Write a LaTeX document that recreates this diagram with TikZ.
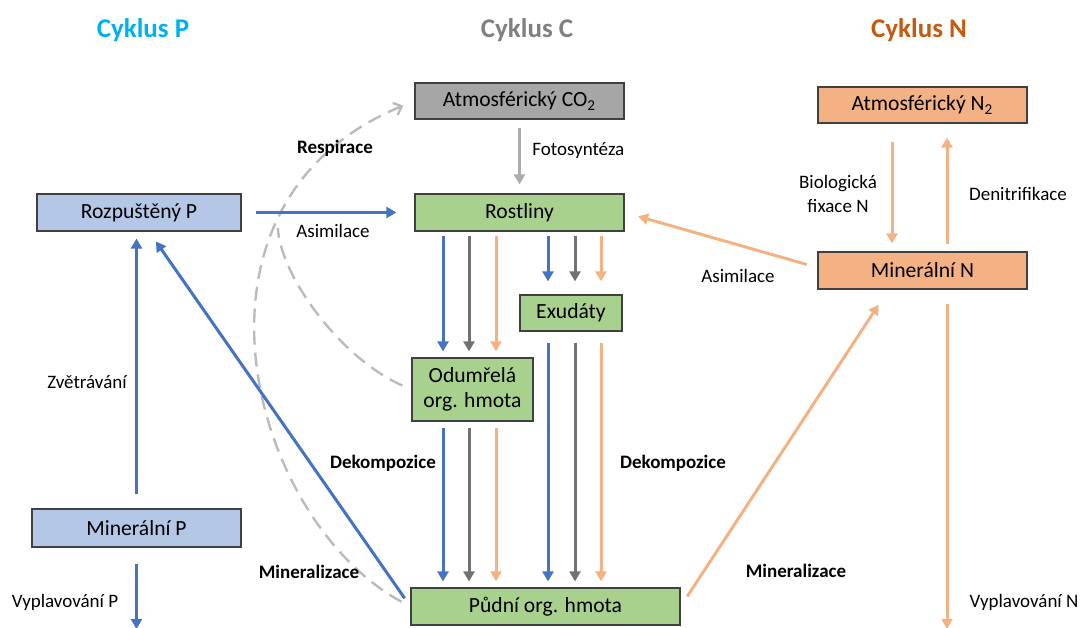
\documentclass[tikz,border=0pt]{standalone}
\usepackage{fontspec}
\setmainfont{Carlito}
\usetikzlibrary{arrows.meta}

\definecolor{pblue}{HTML}{4472C4}
\definecolor{cgray}{HTML}{767171}
\definecolor{norange}{HTML}{F4B183}
\definecolor{fotogray}{HTML}{AFABAB}
\definecolor{respgray}{HTML}{BBBBBB}
\definecolor{co2fill}{HTML}{A6A6A6}
\definecolor{cgreen}{HTML}{A9D18E}
\definecolor{pfill}{HTML}{B4C7E7}
\definecolor{titleP}{HTML}{00B0F0}
\definecolor{titleC}{HTML}{808080}
\definecolor{titleN}{HTML}{C55A11}

\newcommand{\boxfont}{\fontsize{10.8}{12.5}\selectfont}
\newcommand{\lblfont}{\fontsize{9.5}{12}\selectfont}
\newcommand{\headfont}{\bfseries\fontsize{13.5}{16}\selectfont}

\tikzset{
  box/.style={draw=black!75, line width=0.6pt, minimum width=104.5pt, minimum height=18.5pt, inner sep=1pt, font=\boxfont},
  head/.style={font=\headfont},
  lbl/.style={font=\lblfont, inner sep=1pt},
  lblb/.style={font=\lblfont\bfseries, inner sep=1pt},
  flow/.style={line width=1.5pt, -{Triangle[length=5pt,width=5.5pt]}, shorten <=2pt, shorten >=3pt},
  resp/.style={draw=respgray, line width=1.2pt, dash pattern=on 7pt off 4pt, -{Straight Barb[length=3.5pt,width=6.5pt]}}
}

\begin{document}
\begin{tikzpicture}[x=0.5pt, y=-0.5pt]
\useasboundingbox (0,0) rectangle (1082,627);

\node[head, text=titleP] (headP) at (143,30) {Cyklus P};
\node[head, text=titleC] (headC) at (527,30) {Cyklus C};
\node[head, text=titleN] (headN) at (919,30) {Cyklus N};

% boxes
\node[box, fill=co2fill, minimum height=18pt] (AtmCO2) at (519.5,101) {Atmosférický CO\textsubscript{2}};
\node[box, fill=cgreen] (Rostliny) at (519.5,212.5) {Rostliny};
\node[box, fill=cgreen, minimum width=51pt, minimum height=18pt] (Exudaty) at (571,313) {Exudáty};
\node[box, fill=cgreen, minimum width=60.5pt, minimum height=31.5pt, align=center] (Odumrela) at (472.5,389.5) {Odumřelá\\org. hmota};
\node[box, fill=cgreen, minimum width=134.5pt] (Pudni) at (545.5,606.5) {Půdní org. hmota};
\node[box, fill=pfill, minimum width=102pt] (RozpP) at (139,212.5) {Rozpuštěný P};
\node[box, fill=pfill, minimum height=19pt] (MinP) at (136.5,528) {Minerální P};
\node[box, fill=norange, minimum height=18pt] (AtmN2) at (922.5,105) {Atmosférický N\textsubscript{2}};
\node[box, fill=norange] (MinN) at (922.5,270.5) {Minerální N};

\coordinate (colB) at (443,0);
\coordinate (colG) at (469,0);
\coordinate (colO) at (496,0);
\coordinate (exB) at (548,0);
\coordinate (exG) at (575,0);
\coordinate (exO) at (601,0);
\coordinate (nFix) at (892,0);
\coordinate (nDen) at (947,0);
\coordinate (outP) at (136.5,629);
\coordinate (outN) at (947,629);

% respirace
\draw[resp, shorten <=5pt, shorten >=6pt] (Pudni.west) .. controls (250,520) and (165,204) .. (AtmCO2.west) coordinate[pos=0.72] (merge);
\draw[resp, -, shorten <=5pt] (Odumrela.west) .. controls (340,358) and (280,275) .. (merge);

% uhlik a dekompozice
\draw[flow, fotogray, shorten <=4pt, shorten >=4.5pt] (AtmCO2.south) -- (Rostliny.north);
\draw[flow, pblue] (Rostliny.south -| colB) -- (Odumrela.north -| colB);
\draw[flow, cgray] (Rostliny.south -| colG) -- (Odumrela.north -| colG);
\draw[flow, norange] (Rostliny.south -| colO) -- (Odumrela.north -| colO);
\draw[flow, pblue, shorten >=6.5pt] (Rostliny.south -| exB) -- (Exudaty.north -| exB);
\draw[flow, cgray, shorten >=6.5pt] (Rostliny.south -| exG) -- (Exudaty.north -| exG);
\draw[flow, norange, shorten >=6.5pt] (Rostliny.south -| exO) -- (Exudaty.north -| exO);
\draw[flow, pblue, shorten <=3pt] (Odumrela.south -| colB) -- (Pudni.north -| colB);
\draw[flow, cgray, shorten <=3pt] (Odumrela.south -| colG) -- (Pudni.north -| colG);
\draw[flow, norange, shorten <=3pt] (Odumrela.south -| colO) -- (Pudni.north -| colO);
\draw[flow, pblue, shorten <=5.5pt] (Exudaty.south -| exB) -- (Pudni.north -| exB);
\draw[flow, cgray, shorten <=5.5pt] (Exudaty.south -| exG) -- (Pudni.north -| exG);
\draw[flow, norange, shorten <=5.5pt] (Exudaty.south -| exO) -- (Pudni.north -| exO);

% fosfor
\draw[flow, pblue, shorten <=7pt, shorten >=9pt] (RozpP.east) -- (Rostliny.west);
\draw[flow, pblue, shorten <=7pt, shorten >=3.5pt] (MinP.north) -- (MinP.north |- RozpP.south);
\draw[flow, pblue, shorten <=8pt, shorten >=0pt] (MinP.south) -- (outP);
\draw[flow, pblue, shorten <=5pt, shorten >=6pt] (Pudni.west) -- ([xshift=5pt]RozpP.south);

% dusik
\draw[flow, norange, shorten <=9pt, shorten >=4pt] (AtmN2.south -| nFix) -- (MinN.north -| nFix);
\draw[flow, norange, shorten <=3.5pt, shorten >=7pt] (MinN.north -| nDen) -- (AtmN2.south -| nDen);
\draw[flow, norange, shorten <=7pt, shorten >=0pt] (MinN.south -| nDen) -- (outN);
\draw[flow, norange, shorten <=5.5pt, shorten >=7pt] ([yshift=1.5pt]MinN.west) -- (Rostliny.east);
\draw[flow, norange, shorten <=6pt, shorten >=9pt] (Pudni.east) -- ([xshift=-17pt]MinN.south);

% popisky
\node[lbl, anchor=west] (lFoto) at (530,151) {Fotosyntéza};
\node[lblb] (lResp) at (335,148) {Respirace};
\node[lbl] (lAsimP) at (333,231) {Asimilace};
\node[lbl] (lZvetr) at (87,382) {Zvětrávání};
\node[lbl] (lVyplP) at (65,602) {Vyplavování P};
\node[lblb] (lMinP) at (309,572) {Mineralizace};
\node[lblb] (lDek1) at (383,463) {Dekompozice};
\node[lblb] (lDek2) at (673,463) {Dekompozice};
\node[lbl] (lAsimN) at (738,276) {Asimilace};
\node[lbl, align=center] (lFix) at (838,194) {Biologická\\fixace N};
\node[lbl] (lDenit) at (1018,194) {Denitrifikace};
\node[lbl] (lVyplN) at (1024,602) {Vyplavování N};
\node[lblb] (lMinN) at (796,571) {Mineralizace};

\end{tikzpicture}
\end{document}
